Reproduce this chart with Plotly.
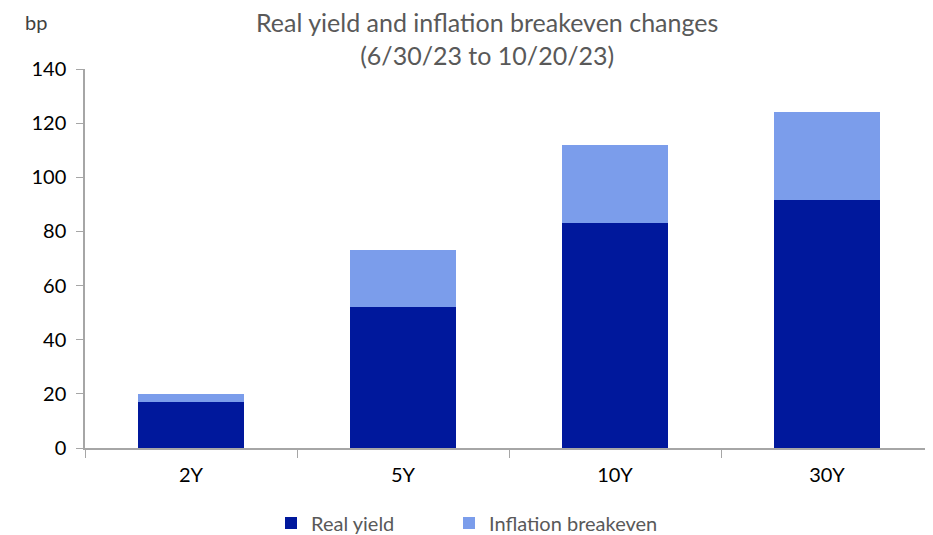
import plotly.graph_objects as go

categories = ["2Y", "5Y", "10Y", "30Y"]
real_yield = [17, 52, 83, 91.5]
inflation_breakeven = [3, 21, 29, 32.5]
y_ticks = [0, 20, 40, 60, 80, 100, 120, 140]

FONT = "Lato"
OFF = 8  # page body margin
W, H = 933 - OFF, 535 - OFF
L, R, T = 85 - OFF, 0, 69 - OFF
PH = 379
B = H - T - PH
PW = W - L - R


def px_to_paper(xp, yp):
    # xp, yp are page pixel coordinates
    xp -= OFF
    yp -= OFF
    return (xp - L) / PW, (H - B - yp) / PH


fig = go.Figure()
fig.add_trace(go.Bar(x=categories, y=real_yield, name="Real yield", legend="legend",
                     marker=dict(color="#00189C", line=dict(width=0))))
fig.add_trace(go.Bar(x=categories, y=inflation_breakeven, name="Inflation breakeven",
                     legend="legend2",
                     marker=dict(color="#7B9DEB", line=dict(width=0))))

l1x, l1y = px_to_paper(271, 523)
l2x, l2y = px_to_paper(449, 523)
tx, ty = px_to_paper(487, 39)
bx, by = px_to_paper(36, 22)

leg_common = dict(orientation="h", xanchor="left", yanchor="middle",
                  font=dict(size=20, color="#595959"), bgcolor="rgba(0,0,0,0)")

fig.update_layout(
    barmode="stack",
    bargap=0.5,
    width=W, height=H,
    margin=dict(l=L, r=R, t=T, b=B, autoexpand=False),
    plot_bgcolor="white", paper_bgcolor="white",
    font=dict(family=FONT, size=20, color="#000000"),
    showlegend=True,
    legend=dict(x=l1x, y=l1y, **leg_common),
    legend2=dict(x=l2x, y=l2y, **leg_common),
    xaxis=dict(showline=True, linecolor="#A6A6A6", linewidth=1.5, automargin=False,
               ticks="outside", tickson="boundaries", ticklen=8, tickcolor="#A6A6A6",
               ticklabelstandoff=8,
               tickfont=dict(size=20, color="#000000"), showgrid=False),
    yaxis=dict(range=[0, 140], tickvals=y_ticks, showline=True, linecolor="#A6A6A6",
               linewidth=1.5, ticks="outside", ticklen=7, tickcolor="#A6A6A6",
               automargin=False, ticklabelstandoff=6,
               tickfont=dict(size=20, color="#000000"), showgrid=False, zeroline=False),
    annotations=[
        dict(text="Real yield and inflation breakeven changes<br>(6/30/23 to 10/20/23)",
             x=tx, xref="paper", y=ty, yref="paper", yanchor="middle", xanchor="center",
             showarrow=False, font=dict(size=25, color="#595959"), align="center"),
        dict(text="bp", x=bx, xref="paper", y=by, yref="paper", showarrow=False,
             xanchor="center", yanchor="middle",
             font=dict(size=20, color="#404040")),
    ],
)
fig.write_html("out.html")
